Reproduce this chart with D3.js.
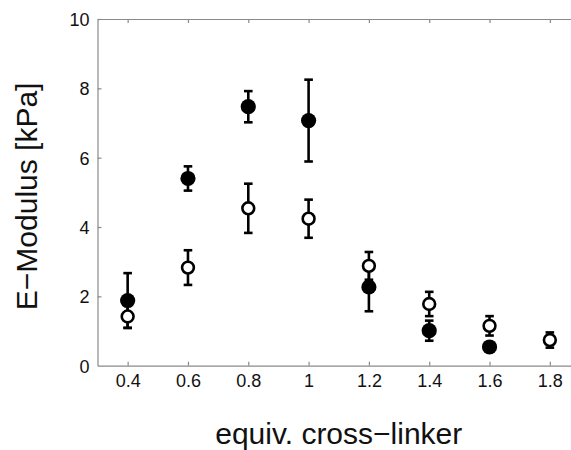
<!DOCTYPE html>
<html><head><meta charset="utf-8">
<script src="https://cdn.jsdelivr.net/npm/d3@7"></script>
<style>html,body{margin:0;padding:0;background:#fff;overflow:hidden}svg{display:block;font-family:"Liberation Sans",Arial,Helvetica,sans-serif}</style>
</head><body>
<script>
const xTicks = [0.4, 0.6, 0.8, 1.0, 1.2, 1.4, 1.6, 1.8];
const xTickLabels = ["0.4", "0.6", "0.8", "1", "1.2", "1.4", "1.6", "1.8"];
const yTicks = [0, 2, 4, 6, 8, 10];
const filledX = [0.4, 0.6, 0.8, 1.0, 1.2, 1.4, 1.6];
const filledY = [1.88, 5.40, 7.47, 7.07, 2.27, 1.01, 0.54];
const filledErr = [0.79, 0.35, 0.45, 1.18, 0.70, 0.29, 0.10];
const openX = [0.4, 0.6, 0.8, 1.0, 1.2, 1.4, 1.6, 1.8];
const openY = [1.42, 2.83, 4.54, 4.24, 2.88, 1.78, 1.15, 0.74];
const openErr = [0.33, 0.50, 0.71, 0.55, 0.40, 0.35, 0.28, 0.22];

const W = 571, H = 450;
const pLeft = 97.5, pRight = 580, pTop = 19, pBottom = 365.7;
const svg = d3.select("body").append("svg").attr("width", W).attr("height", H);
const x = d3.scaleLinear().domain([0.3, 1.9]).range([pLeft, pRight]);
const y = d3.scaleLinear().domain([0, 10]).range([pBottom, pTop]);
const axisColor = "#8a8a8a";

// axes
const gx = svg.append("g").attr("transform", `translate(0,${pBottom})`)
  .call(d3.axisBottom(x).tickValues(xTicks).tickSizeInner(-4).tickSizeOuter(0).tickPadding(9)
    .tickFormat((d, i) => xTickLabels[i]));
const gxt = svg.append("g").attr("transform", `translate(0,${pTop})`)
  .call(d3.axisTop(x).tickValues(xTicks).tickSizeInner(-4).tickSizeOuter(0).tickFormat(""));
const gy = svg.append("g").attr("transform", `translate(${pLeft},0)`)
  .call(d3.axisLeft(y).tickValues(yTicks).tickSizeInner(-4).tickSizeOuter(0).tickPadding(8));
[gx, gxt, gy].forEach(g => {
  g.selectAll(".domain").attr("stroke", axisColor).attr("stroke-width", 1.2);
  g.selectAll(".tick line").attr("stroke", axisColor).attr("stroke-width", 1.2);
  g.selectAll(".tick text").attr("fill", "#111").attr("font-size", 18)
   .attr("font-family", "'Liberation Sans', Arial, sans-serif");
});
gx.selectAll(".tick text").attr("dy", "0.71em");
gy.selectAll(".tick text").attr("dy", "0.36em");
gy.selectAll(".tick").filter(d => d === 0).select("line").remove();

// titles
svg.append("text").attr("x", (pLeft + pRight) / 2).attr("y", 444)
  .attr("text-anchor", "middle").attr("font-size", 30).attr("fill", "#111")
  .text("equiv. cross\u2212linker");
svg.append("text").attr("transform", `translate(37,${(pTop + pBottom) / 2 + 4}) rotate(-90)`)
  .attr("text-anchor", "middle").attr("font-size", 30).attr("fill", "#111")
  .text("E\u2212Modulus [kPa]");

function drawSeries(xs, ys, es, filled) {
  const g = svg.append("g");
  const cap = 4.3;
  xs.forEach((xv, i) => {
    const cx = x(xv), y1 = y(ys[i] + es[i]), y2 = y(ys[i] - es[i]);
    g.append("line").attr("x1", cx).attr("x2", cx).attr("y1", y1).attr("y2", y2)
      .attr("stroke", "#000").attr("stroke-width", 2.6);
    [y1, y2].forEach(yy => g.append("line").attr("x1", cx - cap).attr("x2", cx + cap)
      .attr("y1", yy).attr("y2", yy).attr("stroke", "#000").attr("stroke-width", 2.6));
  });
  g.selectAll("circle").data(xs).join("circle")
    .attr("cx", d => x(d)).attr("cy", (d, i) => y(ys[i]))
    .attr("r", filled ? 7.6 : 5.9)
    .attr("fill", filled ? "#000" : "#fff")
    .attr("stroke", "#000").attr("stroke-width", filled ? 0 : 2.6);
}
drawSeries(filledX, filledY, filledErr, true);
drawSeries(openX, openY, openErr, false);
</script>
</body></html>
